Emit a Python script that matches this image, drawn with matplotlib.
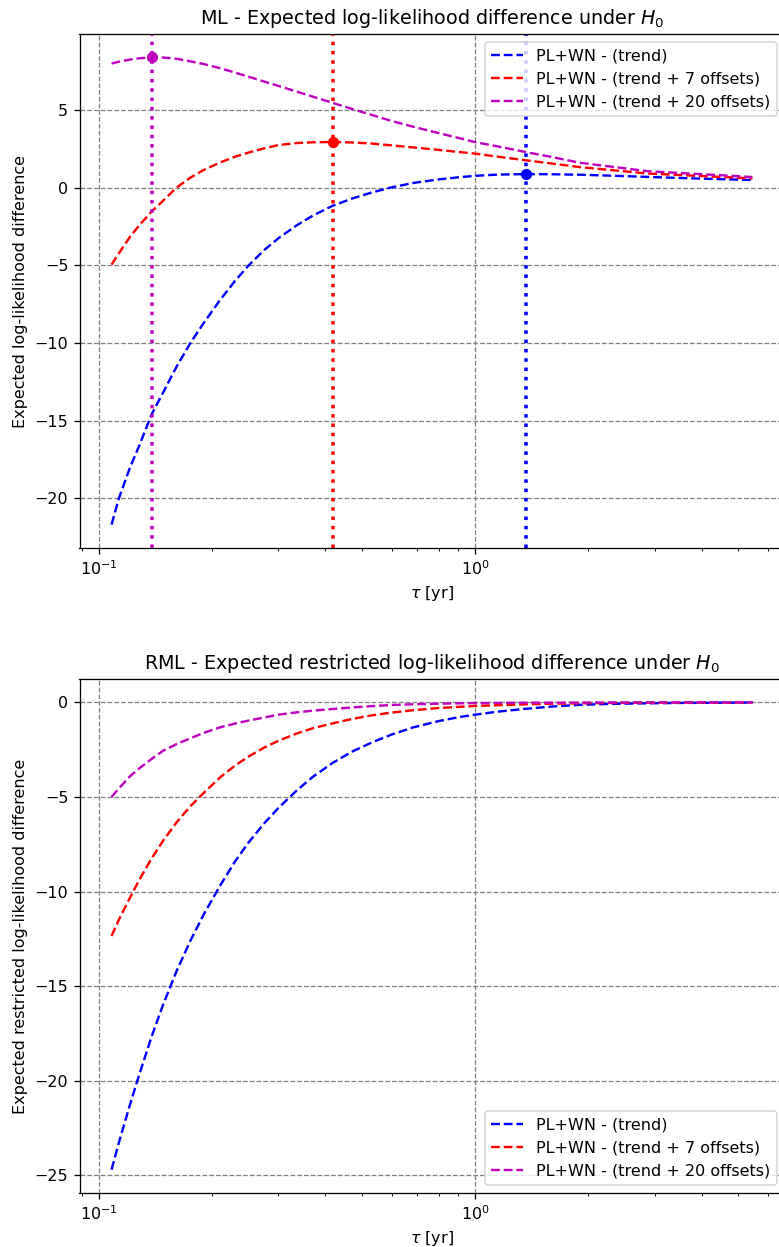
import numpy as np
import matplotlib
matplotlib.use("Agg")
import matplotlib.pyplot as plt

# tau grid [yr]
tau = [0.108, 0.113, 0.121, 0.128, 0.138, 0.148, 0.161, 0.175, 0.19, 0.21,
       0.23, 0.25, 0.275, 0.30, 0.335, 0.37, 0.418, 0.47, 0.53, 0.60,
       0.685, 0.80, 0.90, 1.0, 1.15, 1.364, 1.6, 1.9, 2.3, 2.87,
       3.5, 4.4, 5.46]

labels = ['PL+WN - (trend)', 'PL+WN - (trend + 7 offsets)', 'PL+WN - (trend + 20 offsets)']
colors = ['b', 'r', 'm']

# ML - expected log-likelihood difference
ml_trend = [-21.7, -20.0, -18.0, -16.6, -14.6, -13.2, -11.5, -10.0, -8.7, -7.22,
            -6.0, -5.0, -4.01, -3.25, -2.43, -1.8, -1.16, -0.7, -0.31, 0.03,
            0.31, 0.54, 0.67, 0.77, 0.85, 0.88, 0.87, 0.84, 0.78, 0.70,
            0.63, 0.56, 0.50]
ml_off7 = [-4.95, -4.22, -3.15, -2.42, -1.53, -0.84, 0.02, 0.65, 1.15, 1.63,
           2.0, 2.27, 2.54, 2.75, 2.88, 2.93, 2.95, 2.92, 2.85, 2.73,
           2.6, 2.44, 2.31, 2.2, 2.0, 1.77, 1.56, 1.33, 1.14, 0.92,
           0.82, 0.71, 0.6]
ml_off20 = [8.0, 8.12, 8.26, 8.34, 8.4, 8.39, 8.31, 8.14, 7.97, 7.7,
            7.42, 7.15, 6.84, 6.56, 6.2, 5.87, 5.47, 5.08, 4.7, 4.3,
            3.93, 3.52, 3.22, 2.94, 2.66, 2.3, 1.98, 1.61, 1.36, 1.07,
            0.95, 0.82, 0.69]

# RML - expected restricted log-likelihood difference
rml_trend = [-24.7, -23.26, -21.24, -19.67, -17.67, -15.99, -14.18, -12.6, -11.2, -9.68,
             -8.41, -7.4, -6.39, -5.58, -4.67, -3.94, -3.2, -2.61, -2.13, -1.7,
             -1.32, -0.99, -0.79, -0.65, -0.49, -0.34, -0.22, -0.13, -0.08, -0.05,
             -0.03, -0.02, -0.01]
rml_off7 = [-12.35, -11.48, -10.31, -9.38, -8.25, -7.32, -6.33, -5.49, -4.78, -3.96,
            -3.34, -2.86, -2.39, -2.03, -1.65, -1.37, -1.11, -0.88, -0.69, -0.54,
            -0.415, -0.3, -0.24, -0.19, -0.15, -0.1, -0.07, -0.05, -0.03, -0.02,
            -0.01, -0.01, 0.0]
rml_off20 = [-5.0, -4.55, -3.9, -3.49, -2.99, -2.56, -2.2, -1.9, -1.61, -1.32,
             -1.12, -0.96, -0.8, -0.65, -0.53, -0.44, -0.35, -0.27, -0.2, -0.14,
             -0.1, -0.07, -0.05, -0.04, -0.03, -0.02, -0.015, -0.01, -0.01, -0.005,
             0.0, 0.0, 0.0]

# maxima of the ML curves (tau, value)
ml_max_tau = [1.364, 0.418, 0.138]
ml_max_val = [0.88, 2.95, 8.4]

DPI = 115
W, H = 779.0, 1247.0
fig = plt.figure(figsize=(W/DPI, H/DPI), dpi=DPI)
ax1 = fig.add_axes([79.5/W, (H-548)/H, (784.5-79.5)/W, (548-34)/H])
ax2 = fig.add_axes([79.5/W, (H-1193)/H, (784.5-79.5)/W, (1193-679)/H])

for y, c, lab in zip([ml_trend, ml_off7, ml_off20], colors, labels):
    ax1.semilogx(tau, y, c + '--', lw=1.5, label=lab)
for t, v, c in zip(ml_max_tau, ml_max_val, colors):
    ax1.axvline(t, color=c, ls=':', lw=2.2)
    ax1.plot(t, v, c + 'o', ms=6)
ax1.grid(True, ls='--', color='gray')
ax1.legend(loc='upper right')
ax1.set_title('ML - Expected log-likelihood difference under $H_0$')
ax1.set_xlabel(r'$\tau$ [yr]')
ax1.set_ylabel('Expected log-likelihood difference')

for y, c, lab in zip([rml_trend, rml_off7, rml_off20], colors, labels):
    ax2.semilogx(tau, y, c + '--', lw=1.5, label=lab)
ax2.grid(True, ls='--', color='gray')
ax2.legend(loc='lower right')
ax2.set_title('RML - Expected restricted log-likelihood difference under $H_0$')
ax2.set_xlabel(r'$\tau$ [yr]')
ax2.set_ylabel('Expected restricted log-likelihood difference')

fig.savefig('out.png', dpi=DPI)
